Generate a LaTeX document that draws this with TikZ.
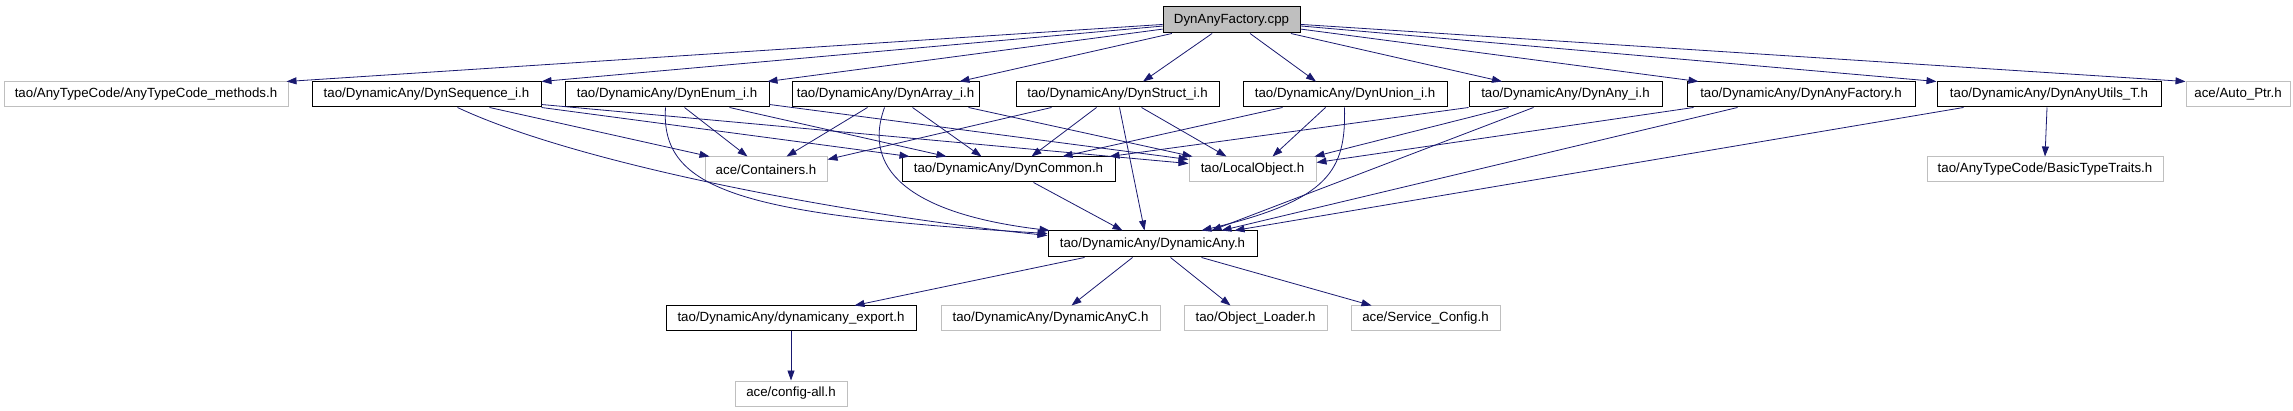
\documentclass[tikz,border=0pt]{standalone}
\usepackage{fontspec}
\setmainfont{Liberation Sans}
\usetikzlibrary{arrows.meta}
\definecolor{edgeblue}{HTML}{191970}
\definecolor{boxgrey}{HTML}{BFBFBF}
\tikzset{
  base/.style={rectangle, minimum height=25pt, inner sep=0pt, line width=1pt,
    font=\fontsize{13.3}{15}\selectfont, text=black},
  doc/.style={base, draw=black},
  undoc/.style={base, draw=boxgrey},
  topbox/.style={base, draw=black, fill=boxgrey, minimum height=26pt},
  edge/.style={draw=edgeblue, line width=0.8pt, -{Triangle[length=10pt,width=7pt]}, edgeblue}
}
\begin{document}
\begin{tikzpicture}[x=1pt,y=-1pt]
\useasboundingbox (0,0) rectangle (2293,411);
% row 1
\node[topbox, minimum width=137pt] (cpp) at (1231.5,20) {DynAnyFactory.cpp};
% row 2
\node[undoc, minimum width=284pt] (methods) at (146,94.5) {tao/AnyTypeCode/AnyTypeCode\_methods.h};
\node[doc, minimum width=229pt] (seq) at (426.5,94.5) {tao/DynamicAny/DynSequence\_i.h};
\node[doc, minimum width=204pt] (enum) at (667,94.5) {tao/DynamicAny/DynEnum\_i.h};
\node[doc, minimum width=187pt] (array) at (885.5,94.5) {tao/DynamicAny/DynArray\_i.h};
\node[doc, minimum width=203pt] (struct) at (1117.5,94.5) {tao/DynamicAny/DynStruct\_i.h};
\node[doc, minimum width=204pt] (union) at (1345,94.5) {tao/DynamicAny/DynUnion\_i.h};
\node[doc, minimum width=193pt] (anyi) at (1565.5,94.5) {tao/DynamicAny/DynAny\_i.h};
\node[doc, minimum width=228pt] (factoryh) at (1801,94.5) {tao/DynamicAny/DynAnyFactory.h};
\node[doc, minimum width=224pt] (utils) at (2049,94.5) {tao/DynamicAny/DynAnyUtils\_T.h};
\node[undoc, minimum width=104pt] (autoptr) at (2238,94.5) {ace/Auto\_Ptr.h};
% row 3
\node[undoc, minimum width=122pt] (containers) at (766,169.5) {ace/Containers.h};
\node[doc, minimum width=213pt] (dyncommon) at (1008.5,169.5) {tao/DynamicAny/DynCommon.h};
\node[undoc, minimum width=127pt] (localobj) at (1252.5,169.5) {tao/LocalObject.h};
\node[undoc, minimum width=236pt] (traits) at (2045,169.5) {tao/AnyTypeCode/BasicTypeTraits.h};
% row 4
\node[doc, minimum width=209pt, minimum height=26pt] (dynany) at (1152.5,244) {tao/DynamicAny/DynamicAny.h};
% row 5
\node[doc, minimum width=250pt] (export) at (791,318.5) {tao/DynamicAny/dynamicany\_export.h};
\node[undoc, minimum width=219pt] (anyc) at (1050.5,318.5) {tao/DynamicAny/DynamicAnyC.h};
\node[undoc, minimum width=143pt] (loader) at (1255.5,318.5) {tao/Object\_Loader.h};
\node[undoc, minimum width=149pt] (svc) at (1425.5,318.5) {ace/Service\_Config.h};
% row 6
\node[undoc, minimum width=112pt] (configall) at (791,393.5) {ace/config-all.h};

% edges from cpp
\draw[edge] (cpp) -- ([xshift=-2pt]methods.north east);
\draw[edge] (cpp) -- (seq.north east);
\draw[edge] (cpp) -- ([xshift=-2pt]enum.north east);
\draw[edge] (cpp) -- ([xshift=-20pt]array.north east);
\draw[edge] (cpp) -- ([xshift=25.5pt]struct.north);
\draw[edge] (cpp) -- ([xshift=-29pt]union.north);
\draw[edge] (cpp) -- ([xshift=-63.5pt]anyi.north);
\draw[edge] (cpp) -- ([xshift=12pt]factoryh.north west);
\draw[edge] (cpp) -- (utils.north west);
\draw[edge] (cpp) -- (autoptr.north west);

% DynSequence
\draw[edge] ([xshift=178pt]seq.south west) -- ([xshift=5pt]containers.north west);
\draw[edge] (seq.south east) -- ([xshift=8pt]dyncommon.north west);
\draw[edge] ([yshift=3pt]seq.south east) -- ([yshift=-7pt]localobj.north west);
\draw[edge] ([xshift=146pt]seq.south west) .. controls (580,165) and (850,215) .. ([yshift=-5pt]dynany.north west);
% DynEnum
\draw[edge] ([xshift=120pt]enum.south west) -- ([xshift=43pt]containers.north west);
\draw[edge] ([xshift=165pt]enum.south west) -- ([xshift=45pt]dyncommon.north west);
\draw[edge] ([yshift=3pt]enum.south east) -- ([yshift=-3pt]localobj.north west);
\draw[edge] ([xshift=101pt]enum.south west) .. controls (660,190) and (740,215) .. ([yshift=-3pt]dynany.north west);
% DynArray
\draw[edge] ([xshift=76pt]array.south west) -- ([xshift=82pt]containers.north west);
\draw[edge] ([xshift=121pt]array.south west) -- ([xshift=80pt]dyncommon.north west);
\draw[edge] ([xshift=177pt]array.south west) -- ([xshift=4pt]localobj.north west);
\draw[edge] ([xshift=93pt]array.south west) .. controls (860,175) and (920,215) .. ([xshift=2pt]dynany.north west);
% DynStruct
\draw[edge] ([xshift=36pt]struct.south west) -- ([yshift=-3pt]containers.north east);
\draw[edge] ([xshift=81pt]struct.south west) -- ([xshift=130pt]dyncommon.north west);
\draw[edge] ([xshift=104pt]struct.south west) -- ([xshift=97pt]dynany.north west);
\draw[edge] ([xshift=126pt]struct.south west) -- ([xshift=38pt]localobj.north west);
% DynUnion
\draw[edge] ([xshift=40pt]union.south west) -- ([xshift=161pt]dyncommon.north west);
\draw[edge] ([xshift=83pt]union.south west) -- ([xshift=84pt]localobj.north west);
\draw[edge] ([xshift=102pt]union.south west) .. controls (1346,170) and (1330,200) .. ([xshift=154pt]dynany.north west);
% DynAny_i
\draw[edge] (anyi.south west) -- ([xshift=-6pt]dyncommon.north east);
\draw[edge] ([xshift=40pt]anyi.south west) -- ([xshift=-2pt]localobj.north east);
\draw[edge] ([xshift=65pt]anyi.south west) -- ([xshift=164pt]dynany.north west);
% DynAnyFactory.h
\draw[edge] ([xshift=7pt]factoryh.south west) -- ([yshift=-6pt]localobj.north east);
\draw[edge] ([xshift=51pt]factoryh.south west) -- ([xshift=174pt]dynany.north west);
% DynAnyUtils_T
\draw[edge] ([xshift=27pt]utils.south west) -- ([xshift=187pt]dynany.north west);
\draw[edge] ([xshift=-2pt]utils.south) -- (traits.north);
% DynCommon
\draw[edge] ([xshift=132pt]dyncommon.south west) -- ([xshift=75pt]dynany.north west);
% DynamicAny.h
\draw[edge] ([xshift=37pt]dynany.south west) -- ([xshift=189pt]export.north west);
\draw[edge] ([xshift=85pt]dynany.south west) -- ([xshift=131pt]anyc.north west);
\draw[edge] ([xshift=123pt]dynany.south west) -- ([xshift=47pt]loader.north west);
\draw[edge] ([xshift=154pt]dynany.south west) -- ([xshift=21pt]svc.north west);
% export
\draw[edge] (export) -- (configall);
\end{tikzpicture}
\end{document}
